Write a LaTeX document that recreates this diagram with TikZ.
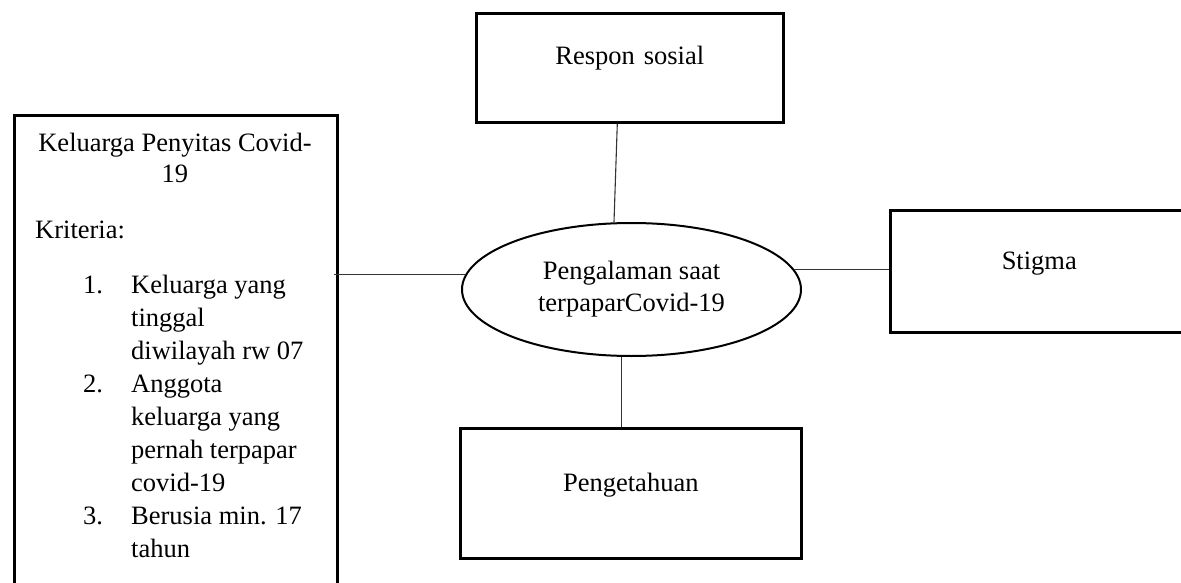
\documentclass[tikz,border=0pt]{standalone}
\usepackage{fontspec}
\setmainfont{Liberation Serif}
\usetikzlibrary{shapes.geometric}
\begin{document}
\begin{tikzpicture}[x=1pt,y=-1pt,
  box/.style={draw, line width=2.6pt, inner sep=0pt, align=center, font=\fontsize{26.5}{32}\selectfont},
  ellbox/.style={draw, ellipse, line width=2pt, inner sep=0pt, minimum width=339pt, minimum height=133pt, align=center, font=\fontsize{26.5}{32}\selectfont},
  conn/.style={draw=black!80, line width=1.1pt},
  lbl/.style={inner sep=0pt, font=\fontsize{26.5}{33}\selectfont}]
\clip (0,0) rectangle (1181,583);
\fill[white] (0,0) rectangle (1181,583);

\node[box, anchor=north west, minimum width=323pt, minimum height=520pt] (kel) at (13,114) {};
\node[lbl, anchor=base] (kelt) at (175,152) {\begin{tabular}[t]{@{}c@{}}Keluarga Penyitas Covid-\\[-2pt]19\end{tabular}};
\node[lbl, anchor=base west] (krit) at (35,238) {Kriteria:};
\node[lbl, anchor=base west] (list) at (83,293) {\begin{tabular}[t]{@{}p{48pt}@{}l@{}}1. & Keluarga yang\\ & tinggal\\ & diwilayah rw 07\\ 2. & Anggota\\ & keluarga yang\\ & pernah terpapar\\ & covid-19\\ 3. & Berusia min. 17\\ & tahun\end{tabular}};

\node[box, anchor=north west, text width=307pt, text height=51pt, text depth=58pt] (resp) at (475,12) {Respon sosial};
\node[box, anchor=north west, text width=298pt, text height=59pt, text depth=63pt] (stig) at (889,209) {Stigma};
\node[box, anchor=north west, text width=341pt, text height=63pt, text depth=67pt] (peng) at (459,427) {Pengetahuan};

\node[ellbox] (ell) at (631.5,289.5) {Pengalaman saat\\terpaparCovid-19};

\draw[conn] ([xshift=-12.5pt]resp.south) -- ([xshift=-17.5pt]ell.north);
\draw[conn] ([xshift=-5pt]kel.east |- ell.175) -- (ell.175);
\draw[conn] (ell.7) -- (ell.7 -| stig.west);
\draw[conn] ([xshift=-9.5pt]peng.north) -- ([xshift=-9.5pt]peng.north |- ell.south);
\end{tikzpicture}
\end{document}
